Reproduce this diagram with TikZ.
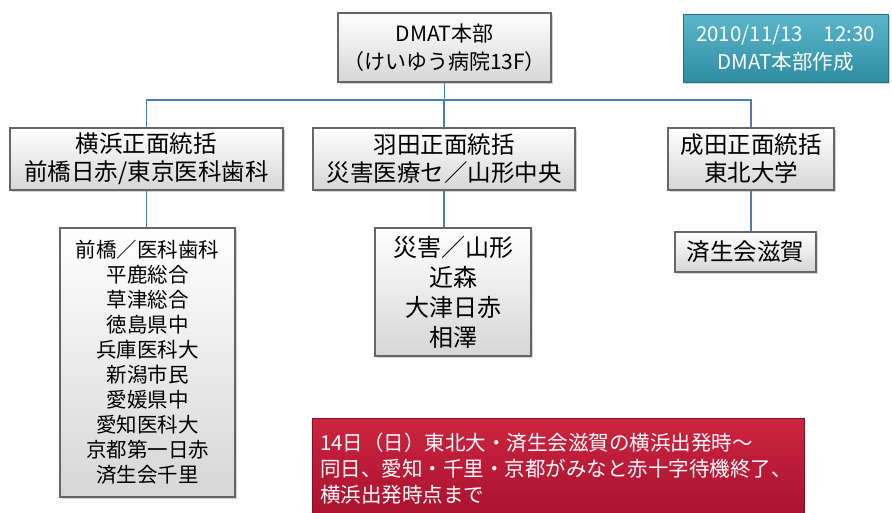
\documentclass[tikz,border=0pt]{standalone}
\usepackage{fontspec}
\setmainfont{Noto Sans CJK JP}
\usetikzlibrary{shadows}
\definecolor{linkblue}{HTML}{4A7EBB}
\definecolor{tealtop}{HTML}{5BB7CB}
\definecolor{tealbot}{HTML}{2E8CA3}
\definecolor{redtop}{HTML}{CC2440}
\definecolor{redbot}{HTML}{A8122E}

\begin{document}
\begin{tikzpicture}[x=1pt, y=-1pt,
        unit/.style={draw=gray!80!black, line width=1.2pt, top color=white, bottom color=gray!32,
                     drop shadow={opacity=0.35, shadow xshift=2pt, shadow yshift=-2pt},
                     align=center, inner sep=0pt, font=\fontsize{21}{28}\selectfont},
        link/.style={linkblue, line width=1.2pt}]
        \useasboundingbox (0,0) rectangle (892,512);
        % headquarters and stamp
        \node [unit, minimum width=213, minimum height=69] (hq) at (444.5,47.5) {DMAT本部\\（けいゆう病院13F）};
        \node [draw=tealbot!80!black, top color=tealtop, bottom color=tealbot, text=white, align=center,
               inner sep=0pt, minimum width=205, minimum height=68, font=\fontsize{20.5}{28}\selectfont,
               drop shadow={opacity=0.3, shadow xshift=2pt, shadow yshift=-2pt}] (stamp) at (785.5,48)
               {2010/11/13\quad 12:30\\DMAT本部作成};
        % front commands
        \node [unit, minimum width=273, minimum height=62, font=\fontsize{23.5}{28}\selectfont] (yokohama) at (146.5,159) {横浜正面統括\\前橋日赤/東京医科歯科};
        \node [unit, minimum width=262, minimum height=62, font=\fontsize{23.5}{28}\selectfont] (haneda) at (444,159) {羽田正面統括\\災害医療セ／山形中央};
        \node [unit, minimum width=166, minimum height=62, font=\fontsize{23.5}{28}\selectfont] (narita) at (751,159) {成田正面統括\\東北大学};
        % teams
        \node [unit, minimum width=175, minimum height=269, font=\fontsize{20.5}{25}\selectfont] (yokoteams) at (147.5,362.5)
              {前橋／医科歯科\\平鹿総合\\草津総合\\徳島県中\\兵庫医科大\\新潟市民\\愛媛県中\\愛知医科大\\京都第一日赤\\済生会千里};
        \node [unit, minimum width=156, minimum height=128, font=\fontsize{24}{30}\selectfont] (hanedateams) at (453,292)
              {災害／山形\\近森\\大津日赤\\相澤};
        \node [unit, minimum width=141, minimum height=40, font=\fontsize{23.5}{28}\selectfont] (naritateams) at (745.5,252) {済生会滋賀};
        % note
        \node [draw=redbot!80!black, top color=redtop, bottom color=redbot, text=white, align=left,
               anchor=north west, inner xsep=8pt, inner ysep=6pt, text width=476, minimum height=100,
               font=\fontsize{20.5}{26}\selectfont] (note) at (312,418)
              {14日（日）東北大・済生会滋賀の横浜出発時〜\\同日、愛知・千里・京都がみなと赤十字待機終了、\\横浜出発時点まで};
        % connectors
        \coordinate (bus) at (0,100);
        \draw [link] (hq.south) -- (hq.south |- bus);
        \draw [link] (yokohama.north) -- (yokohama.north |- bus) -- (narita.north |- bus) -- (narita.north);
        \draw [link] (haneda.north) -- (haneda.north |- bus);
        \draw [link] (yokohama.south) -- (yokohama.south |- yokoteams.north);
        \draw [link] (haneda.south) -- (haneda.south |- hanedateams.north);
        \draw [link] (narita.south) -- (narita.south |- naritateams.north);
\end{tikzpicture}
\end{document}
